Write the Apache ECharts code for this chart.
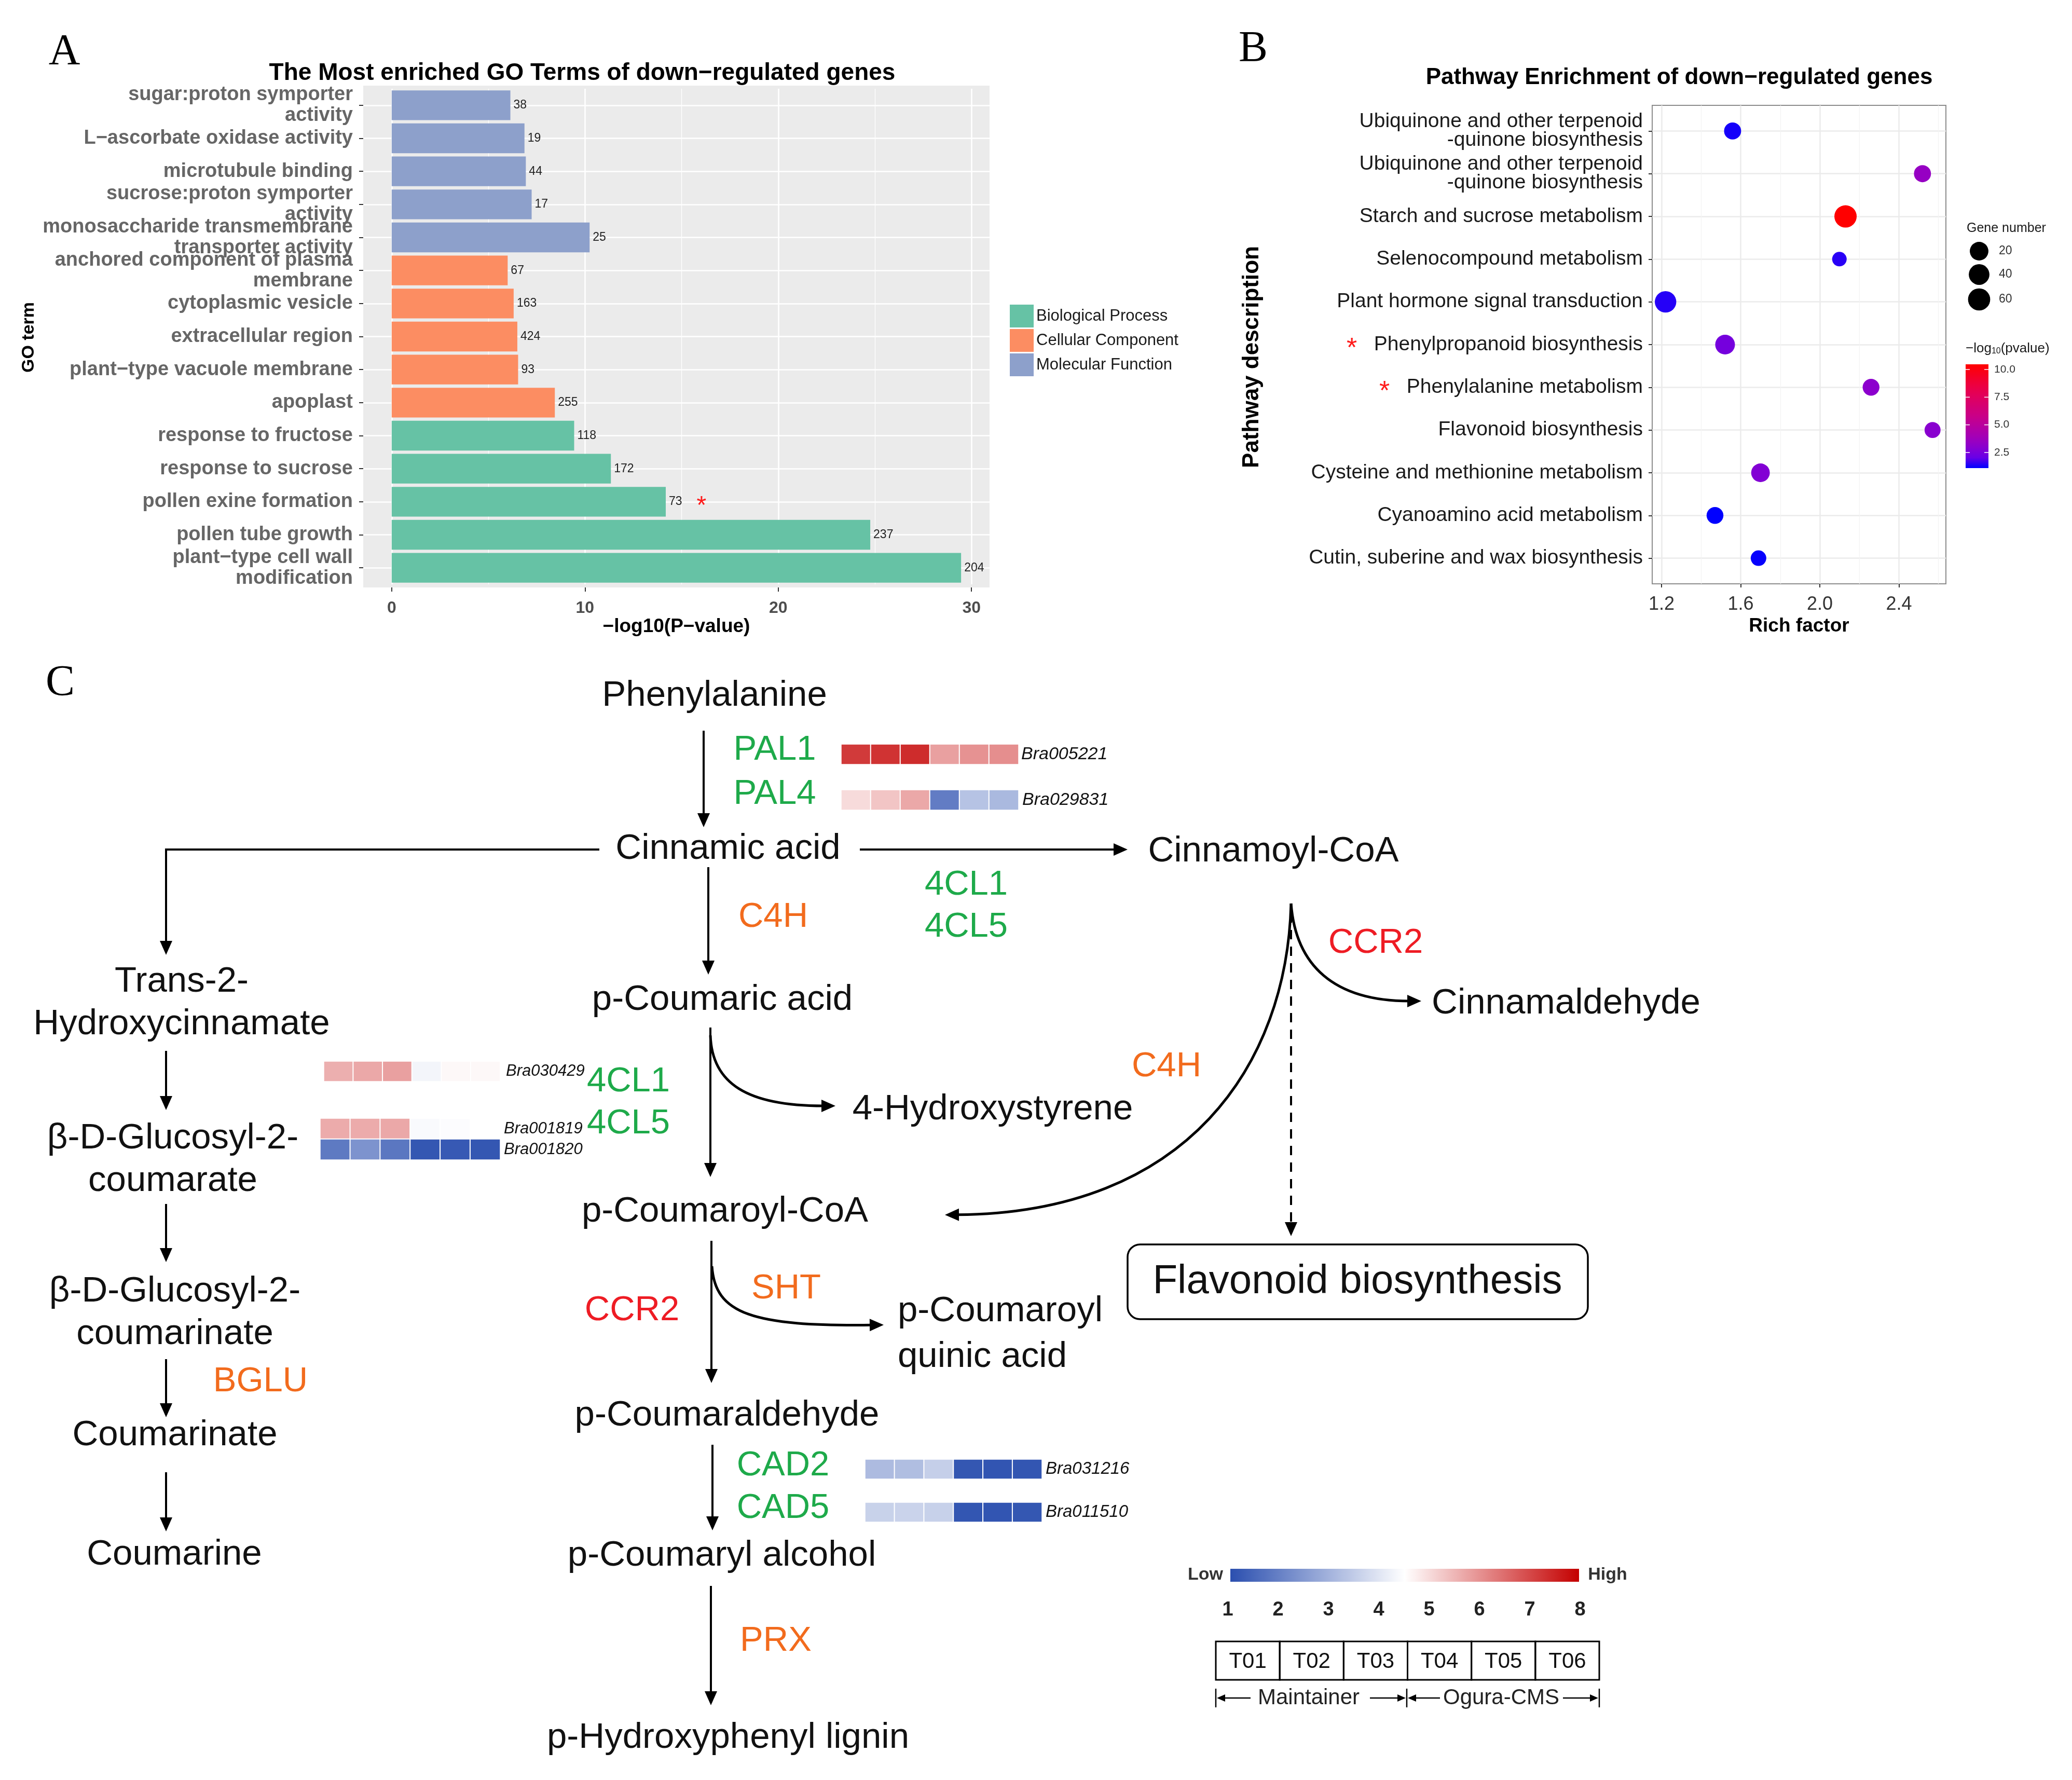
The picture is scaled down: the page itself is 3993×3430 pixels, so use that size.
<!DOCTYPE html>
<html><head><meta charset="utf-8">
<script src="https://cdn.jsdelivr.net/npm/echarts@6/dist/echarts.min.js"></script>
<style>html,body{margin:0;padding:0;background:#fff}#c{width:3993px;height:3430px}</style>
</head><body><div id="c"></div>
<script>
// ---------------- Panel A data ----------------
const goTerms = ['sugar:proton symporter\nactivity','L\u2212ascorbate oxidase activity','microtubule binding','sucrose:proton symporter\nactivity','monosaccharide transmembrane\ntransporter activity','anchored component of plasma\nmembrane','cytoplasmic vesicle','extracellular region','plant\u2212type vacuole membrane','apoplast','response to fructose','response to sucrose','pollen exine formation','pollen tube growth','plant\u2212type cell wall\nmodification'];
const goValues = [6.14,6.87,6.94,7.24,10.24,6.0,6.31,6.5,6.54,8.44,9.44,11.34,14.18,24.76,29.46];
const goCounts = [38,19,44,17,25,67,163,424,93,255,118,172,73,237,204];
const goClass = ['MF','MF','MF','MF','MF','CC','CC','CC','CC','CC','BP','BP','BP','BP','BP'];
const goClassKeys = ['BP','CC','MF'];
const goClassNames = ['Biological Process','Cellular Component','Molecular Function'];
const goStarred = ['pollen exine formation'];
const goXTicks = [0,10,20,30];
const goXMinor = [5,15,25];

// ---------------- Panel B data ----------------
const pathways = ['Ubiquinone and other terpenoid\n-quinone biosynthesis','Ubiquinone and other terpenoid\n-quinone biosynthesis','Starch and sucrose metabolism','Selenocompound metabolism','Plant hormone signal transduction','Phenylpropanoid biosynthesis','Phenylalanine metabolism','Flavonoid biosynthesis','Cysteine and methionine metabolism','Cyanoamino acid metabolism','Cutin, suberine and wax biosynthesis'];
const richFactor = [1.559,2.519,2.130,2.099,1.220,1.521,2.259,2.570,1.700,1.470,1.690];
const negLogP = [1.28,3.43,10.47,1.46,1.42,2.40,3.06,2.97,2.78,1.09,1.15];
const geneNumber = [10,10,62,4,50,30,9,6,20,9,5];
const starredPathways = [5,6];
const rfTicks = [1.2,1.6,2.0,2.4];
const rfMinor = [1.4,1.8,2.2,2.6];
const sizeLegendValues = [20,40,60];
const pLegendTicks = [10.0,7.5,5.0,2.5];

// ---------------- Panel C heatmap data ----------------
const sampleNames = ['T01','T02','T03','T04','T05','T06'];
const scaleNumbers = [1,2,3,4,5,6,7,8];
const Bra005221 = [7.2,7.3,7.4,5.8,6.0,6.05];
const Bra029831 = [5.0,5.3,5.7,1.9,3.3,3.1];
const Bra030429 = [5.6,5.7,5.8,4.3,4.6,4.6];
const Bra001819 = [5.65,5.65,5.7,4.4,4.45,4.5];
const Bra001820 = [1.85,2.35,1.8,1.15,1.2,1.15];
const Bra031216 = [3.15,3.2,3.55,1.15,1.12,1.13];
const Bra011510 = [3.6,3.62,3.58,1.14,1.12,1.15];

// ---------------- styling ----------------
const FONT = '"Liberation Sans", Arial, Helvetica, sans-serif';
const SERIF = '"Liberation Serif", "Times New Roman", serif';
const goColors = {BP:'#66C2A5', CC:'#FC8D62', MF:'#8DA0CB'};
const pColors = ['#0000FF','#6800E7','#8900CF','#A300B7','#B600A0','#C90088','#D50072','#E2005B','#ED0040','#F60020','#FF0000'];
const heatColors = ['#2B4FAF','#FFFFFF','#C40000'];
const GREEN = '#1EAA4A', ORANGE = '#F26B1D', RED = '#EE1C24';
const pMin = Math.min(...negLogP), pMax = Math.max(...negLogP);
const sizeOf = n => 28 + 15 * Math.sqrt(Math.max(0, n - 4) / 58);

// ---------------- graphic helpers ----------------
const G = [];
function txt(x, y, text, size, color, extra) {
  G.push({type:'text', z:100, x:x, y:y, style:Object.assign({x:0, y:0, text:text, fontSize:size, fontFamily:FONT, fill:color || '#111', align:'center', verticalAlign:'middle', textAlign:'center', textVerticalAlign:'middle'}, extra || {})});
}
function head(tx, ty, dx, dy, len, hw) {
  len = len || 27; hw = hw || 12;
  const bx = tx - dx * len, by = ty - dy * len, px = -dy, py = dx;
  G.push({type:'polygon', z:100, shape:{points:[[tx,ty],[bx+px*hw,by+py*hw],[bx-px*hw,by-py*hw]]}, style:{fill:'#000'}});
  return [bx + dx * 4, by + dy * 4];
}
function arrow(x1, y1, x2, y2, w, dash) {
  const L = Math.hypot(x2-x1, y2-y1), dx = (x2-x1)/L, dy = (y2-y1)/L;
  const e = head(x2, y2, dx, dy);
  G.push({type:'line', z:100, shape:{x1:x1,y1:y1,x2:e[0],y2:e[1]}, style:{stroke:'#000', lineWidth:w || 4, lineDash:dash || null}});
}
function curveArrow(p0, c1, c2, p3, w) {
  const L = Math.hypot(p3[0]-c2[0], p3[1]-c2[1]);
  const e = head(p3[0], p3[1], (p3[0]-c2[0])/L, (p3[1]-c2[1])/L);
  G.push({type:'bezierCurve', z:100, shape:{x1:p0[0],y1:p0[1],cpx1:c1[0],cpy1:c1[1],cpx2:c2[0],cpy2:c2[1],x2:e[0],y2:e[1]}, style:{stroke:'#000', lineWidth:w || 5, fill:'none'}});
}

// panel A full grey panel (ggplot panel incl. discrete expansion)
G.push({type:'rect', z:-10, silent:true, shape:{x:700, y:165, width:1207, height:967}, style:{fill:'#EBEBEB'}});

// panel letters & titles
txt(124, 102, 'A', 84, '#000', {fontFamily:SERIF});
txt(2415, 96, 'B', 84, '#000', {fontFamily:SERIF});
txt(116, 1318, 'C', 84, '#000', {fontFamily:SERIF});
txt(1122, 141, 'The Most enriched GO Terms of down\u2212regulated genes', 46, '#000', {fontWeight:'bold'});
txt(3236, 150, 'Pathway Enrichment of down\u2212regulated genes', 44, '#000', {fontWeight:'bold'});
G.push({type:'text', z:100, x:56, y:650, rotation:Math.PI/2, style:{x:0,y:0,text:'GO term', fontSize:34, fontWeight:'bold', fontFamily:FONT, fill:'#000', align:'center', verticalAlign:'middle'}});
G.push({type:'text', z:100, x:2413, y:688, rotation:Math.PI/2, style:{x:0,y:0,text:'Pathway description', fontSize:44, fontWeight:'bold', fontFamily:FONT, fill:'#000', align:'center', verticalAlign:'middle'}});

// Panel B legends
txt(3790, 440, 'Gene number', 25, '#1a1a1a', {align:'left', textAlign:'left'});
const sizeLegY = [484, 529, 577];
sizeLegendValues.forEach((n, i) => {
  G.push({type:'circle', z:100, shape:{cx:3814, cy:sizeLegY[i], r:sizeOf(n)/2}, style:{fill:'#000'}});
  txt(3852, sizeLegY[i], String(n), 23, '#333', {align:'left', textAlign:'left'});
});
G.push({type:'text', z:100, x:3788, y:672, style:{x:0,y:0,text:'\u2212log{s|10}(pvalue)', fontSize:26, fontFamily:FONT, fill:'#1a1a1a', align:'left', verticalAlign:'middle', rich:{s:{fontSize:16, fontFamily:FONT, fill:'#1a1a1a', padding:[10,0,0,0]}}}});
const cbTop = 702, cbH = 200, cbX = 3788, cbW = 44;
G.push({type:'rect', z:99, shape:{x:cbX, y:cbTop, width:cbW, height:cbH}, style:{fill:{type:'linear', x:0, y:1, x2:0, y2:0, colorStops:pColors.map((c,i)=>({offset:i/(pColors.length-1), color:c}))}}});
pLegendTicks.forEach(v => {
  const y = cbTop + cbH - (v - pMin) / (pMax - pMin) * cbH;
  G.push({type:'line', z:100, shape:{x1:cbX, y1:y, x2:cbX+8, y2:y}, style:{stroke:'#fff', lineWidth:1.5}});
  G.push({type:'line', z:100, shape:{x1:cbX+cbW-8, y1:y, x2:cbX+cbW, y2:y}, style:{stroke:'#fff', lineWidth:1.5}});
  txt(3843, y, v.toFixed(1), 21, '#333', {align:'left', textAlign:'left'});
});

// Panel C: compounds
const CS = 69;
txt(1377, 1341, 'Phenylalanine', CS);
txt(1403, 1636, 'Cinnamic acid', CS);
txt(2454, 1641, 'Cinnamoyl-CoA', CS);
txt(350, 1933, 'Trans-2-\nHydroxycinnamate', CS, '#111', {lineHeight:82});
txt(1392, 1927, 'p-Coumaric acid', CS);
txt(3018, 1934, 'Cinnamaldehyde', CS);
txt(1913, 2138, '4-Hydroxystyrene', CS);
txt(333, 2235, '\u03B2-D-Glucosyl-2-\ncoumarate', CS, '#111', {lineHeight:82});
txt(1397, 2335, 'p-Coumaroyl-CoA', CS);
txt(337, 2530, '\u03B2-D-Glucosyl-2-\ncoumarinate', CS, '#111', {lineHeight:82});
txt(1730, 2571, 'p-Coumaroyl\nquinic acid', CS, '#111', {lineHeight:88, align:'left', textAlign:'left'});
txt(337, 2766, 'Coumarinate', CS);
txt(1401, 2728, 'p-Coumaraldehyde', CS);
txt(336, 2996, 'Coumarine', CS);
txt(1391, 2998, 'p-Coumaryl alcohol', CS);
txt(1403, 3349, 'p-Hydroxyphenyl lignin', CS);
G.push({type:'rect', z:100, shape:{x:2173, y:2398, width:887, height:144, r:24}, style:{fill:'#fff', stroke:'#000', lineWidth:3.5}});
txt(2616, 2470, 'Flavonoid biosynthesis', 78);

// enzymes
const ES = 67;
txt(1493, 1446, 'PAL1', ES, GREEN);
txt(1493, 1531, 'PAL4', ES, GREEN);
txt(1490, 1768, 'C4H', ES, ORANGE);
txt(1862, 1706, '4CL1', ES, GREEN);
txt(1862, 1787, '4CL5', ES, GREEN);
txt(2651, 1818, 'CCR2', ES, RED);
txt(2248, 2056, 'C4H', ES, ORANGE);
txt(1211, 2085, '4CL1', ES, GREEN);
txt(1211, 2166, '4CL5', ES, GREEN);
txt(1515, 2484, 'SHT', ES, ORANGE);
txt(1218, 2526, 'CCR2', ES, RED);
txt(502, 2663, 'BGLU', ES, ORANGE);
txt(1509, 2825, 'CAD2', ES, GREEN);
txt(1509, 2907, 'CAD5', ES, GREEN);
txt(1495, 3163, 'PRX', ES, ORANGE);

// arrows
arrow(1356, 1408, 1356, 1594);
arrow(1365, 1671, 1365, 1878);
arrow(1657, 1637, 2173, 1637);
G.push({type:'polyline', z:100, shape:{points:[[1155,1637],[320,1637],[320,1820]]}, style:{stroke:'#000', lineWidth:4, fill:'none'}});
head(320, 1840, 0, 1);
arrow(320, 2025, 320, 2139);
arrow(320, 2320, 320, 2432);
arrow(320, 2619, 320, 2731);
arrow(320, 2837, 320, 2951);
arrow(1369, 1980, 1369, 2268);
curveArrow([1369,1995],[1372,2088],[1440,2131],[1610,2131]);
arrow(1371, 2391, 1371, 2665);
curveArrow([1372,2440],[1378,2532],[1450,2556],[1703,2553]);
arrow(1373, 2784, 1373, 2949);
arrow(1370, 3056, 1370, 3286);
curveArrow([2488,1741],[2480,2050],[2290,2338],[1821,2341]);
curveArrow([2488,1741],[2497,1860],[2570,1929],[2739,1929]);
arrow(2488, 1760, 2488, 2382, 4, [18, 14]);

// heatmap legend
G.push({type:'rect', z:99, shape:{x:2371, y:3023, width:672, height:25}, style:{fill:{type:'linear', x:0, y:0, x2:1, y2:0, colorStops:heatColors.map((c,i)=>({offset:i/(heatColors.length-1), color:c}))}}});
txt(2323, 3035, 'Low', 34, '#333', {fontWeight:'bold'});
txt(3098, 3035, 'High', 34, '#333', {fontWeight:'bold'});
scaleNumbers.forEach((n, i) => txt(2366 + i * (3045 - 2366) / 7, 3103, String(n), 38, '#222', {fontWeight:'bold'}));
const tbX = 2343, tbW = (3082 - 2343) / 6;
sampleNames.forEach((s, i) => {
  G.push({type:'rect', z:100, shape:{x:tbX + i * tbW, y:3163, width:tbW, height:74}, style:{fill:'none', stroke:'#000', lineWidth:3}});
  txt(tbX + (i + 0.5) * tbW, 3202, s, 42, '#111');
});
[[2343],[2711],[3082]].forEach(a => G.push({type:'line', z:100, shape:{x1:a[0], y1:3254, x2:a[0], y2:3290}, style:{stroke:'#000', lineWidth:2.5}}));
function smallArrow(x1, x2, y) {
  const d = x2 > x1 ? 1 : -1;
  G.push({type:'line', z:100, shape:{x1:x1, y1:y, x2:x2 - d*10, y2:y}, style:{stroke:'#000', lineWidth:2.5}});
  G.push({type:'polygon', z:100, shape:{points:[[x2,y],[x2-d*16,y-7],[x2-d*16,y+7]]}, style:{fill:'#000'}});
}
smallArrow(2410, 2345, 3272);
smallArrow(2640, 2709, 3272);
smallArrow(2775, 2713, 3272);
smallArrow(3012, 3080, 3272);
txt(2522, 3272, 'Maintainer', 42, '#222');
txt(2893, 3272, 'Ogura-CMS', 42, '#222');

// ---------------- build option ----------------
const grids = [
  {left:700, top:171, width:1207, height:955, show:true, backgroundColor:'#EBEBEB', borderWidth:0, outerBoundsMode:'none', containLabel:false},
  {left:3184, top:203, width:566, height:922, show:true, backgroundColor:'#fff', borderColor:'#8C8C8C', borderWidth:2, outerBoundsMode:'none', containLabel:false}
];
const xAxes = [
  {gridIndex:0, type:'value', position:'bottom', offset:6, min:-1.473, max:30.933, axisLine:{show:false, onZero:false},
   axisTick:{show:true, customValues:goXTicks, length:8, lineStyle:{color:'#333', width:2}},
   axisLabel:{customValues:goXTicks, fontSize:32, color:'#4D4D4D', fontWeight:'bold', fontFamily:FONT, margin:24},
   splitLine:{show:true, lineStyle:{color:'#fff', width:2.6}},
   name:'\u2212log10(P\u2212value)', nameLocation:'middle', nameGap:57, nameTextStyle:{fontSize:37, fontWeight:'bold', color:'#000', fontFamily:FONT}},
  {gridIndex:0, type:'value', position:'top', min:-1.473, max:30.933, axisLine:{show:false, onZero:false},
   axisTick:{show:false, customValues:goXMinor}, axisLabel:{show:false, customValues:goXMinor},
   splitLine:{show:true, lineStyle:{color:'#fff', width:1.3}}},
  {gridIndex:1, type:'value', position:'bottom', min:1.1525, max:2.6375, axisLine:{show:false, onZero:false},
   axisTick:{show:true, customValues:rfTicks, length:7, lineStyle:{color:'#333', width:2}},
   axisLabel:{customValues:rfTicks, fontSize:36, color:'#333', fontFamily:FONT, margin:22, formatter:v=>v.toFixed(1)},
   splitLine:{show:true, lineStyle:{color:'#EBEBEB', width:2.5}},
   name:'Rich factor', nameLocation:'middle', nameGap:63, nameTextStyle:{fontSize:37, fontWeight:'bold', color:'#000', fontFamily:FONT}},
  {gridIndex:1, type:'value', position:'top', min:1.1525, max:2.6375, axisLine:{show:false, onZero:false},
   axisTick:{show:false, customValues:rfMinor}, axisLabel:{show:false, customValues:rfMinor},
   splitLine:{show:true, lineStyle:{color:'#F3F3F3', width:1.3}}}
];
const yAxes = [
  {gridIndex:0, type:'category', data:goTerms, inverse:true, axisLine:{show:false, onZero:false},
   axisTick:{show:true, alignWithLabel:true, interval:0, length:8, lineStyle:{color:'#333', width:2}},
   axisLabel:{interval:0, fontSize:38, fontWeight:'bold', color:'#666', fontFamily:FONT, lineHeight:40, margin:20, align:'right'},
   splitLine:{show:true, interval:0, alignWithLabel:true, lineStyle:{color:'#fff', width:2.6}}},
  {gridIndex:1, type:'value', min:-0.6, max:10.6, inverse:true, axisLine:{show:false, onZero:false},
   axisTick:{show:true, customValues:pathways.map((p,i)=>i), length:7, lineStyle:{color:'#333', width:2}},
   axisLabel:{customValues:pathways.map((p,i)=>i), fontSize:39, color:'#1a1a1a', fontFamily:FONT, lineHeight:36, margin:18, align:'right',
     formatter:v=>{const i=Math.round(v); return starredPathways.indexOf(i)>=0 ? '{s|*}   ' + pathways[i] : pathways[i];},
     rich:{s:{color:'#FF1A1A', fontSize:52, fontFamily:FONT, padding:[18,0,0,0]}}},
   splitLine:{show:true, lineStyle:{color:'#EBEBEB', width:2.5}}}
];
const series = [];
goClassKeys.forEach((k, ci) => {
  series.push({type:'bar', name:goClassNames[ci], xAxisIndex:0, yAxisIndex:0, stack:'go', barCategoryGap:'10%',
    itemStyle:{color:goColors[k]},
    data:goValues.map((v,i)=> goClass[i]===k ? v : '-'),
    label:{show:true, position:'right', distance:6, fontSize:23, color:'#222', fontFamily:FONT,
      formatter:p=> goStarred.indexOf(goTerms[p.dataIndex])>=0 ? goCounts[p.dataIndex] + '{s|*}' : String(goCounts[p.dataIndex]),
      rich:{s:{color:'#FF1A1A', fontSize:48, fontFamily:FONT, padding:[18,0,0,28]}}}
  });
});
series.push({type:'scatter', xAxisIndex:2, yAxisIndex:1, symbol:'circle',
  data:richFactor.map((r,i)=>[r, i, negLogP[i], geneNumber[i]]),
  symbolSize:d=>sizeOf(d[3]), itemStyle:{opacity:1}});

const strips = [
  {genes:['Bra005221'], vals:[Bra005221], box:[1621,1434,342,39], fs:34, m:5},
  {genes:['Bra029831'], vals:[Bra029831], box:[1621,1522,342,39], fs:34, m:7},
  {genes:['Bra030429'], vals:[Bra030429], box:[624,2045,340,39], fs:31, m:11},
  {genes:['Bra001819','Bra001820'], vals:[Bra001819,Bra001820], box:[617,2155,347,80], fs:31, m:7},
  {genes:['Bra031216'], vals:[Bra031216], box:[1667,2812,341,38], fs:33, m:7},
  {genes:['Bra011510'], vals:[Bra011510], box:[1667,2895,341,38], fs:33, m:7}
];
const heatSeriesIdx = [];
strips.forEach((s, k) => {
  const gi = grids.length;
  grids.push({left:s.box[0], top:s.box[1], width:s.box[2], height:s.box[3], show:false, outerBoundsMode:'none', containLabel:false});
  const xi = xAxes.length, yi = yAxes.length;
  xAxes.push({gridIndex:gi, type:'category', data:sampleNames, show:false});
  yAxes.push({gridIndex:gi, type:'category', data:s.genes, inverse:true, position:'right', axisLine:{show:false}, axisTick:{show:false}, splitLine:{show:false},
    axisLabel:{interval:0, fontStyle:'italic', fontSize:s.fs, color:'#111', fontFamily:FONT, margin:s.m}});
  const data = [];
  s.vals.forEach((row, r) => row.forEach((v, c) => data.push([c, r, v])));
  heatSeriesIdx.push(series.length);
  series.push({type:'heatmap', xAxisIndex:xi, yAxisIndex:yi, data:data, itemStyle:{borderColor:'#fff', borderWidth:2}});
});

const option = {
  backgroundColor:'#fff',
  animation:false,
  textStyle:{fontFamily:FONT},
  grid:grids, xAxis:xAxes, yAxis:yAxes, series:series,
  legend:{data:goClassNames, orient:'vertical', left:1946, top:587, padding:0, itemWidth:46, itemHeight:44, itemGap:3, icon:'rect', selectedMode:false,
    textStyle:{fontSize:31, color:'#1a1a1a', fontFamily:FONT}},
  visualMap:[
    {type:'continuous', show:false, seriesIndex:[3], dimension:2, min:pMin, max:pMax, inRange:{color:pColors}},
    {type:'continuous', show:false, seriesIndex:heatSeriesIdx, dimension:2, min:1, max:8, inRange:{color:heatColors}}
  ],
  graphic:G
};
const chart = echarts.init(document.getElementById('c'), null, {renderer:'canvas', width:3993, height:3430});
chart.setOption(option);
</script>
</body></html>
